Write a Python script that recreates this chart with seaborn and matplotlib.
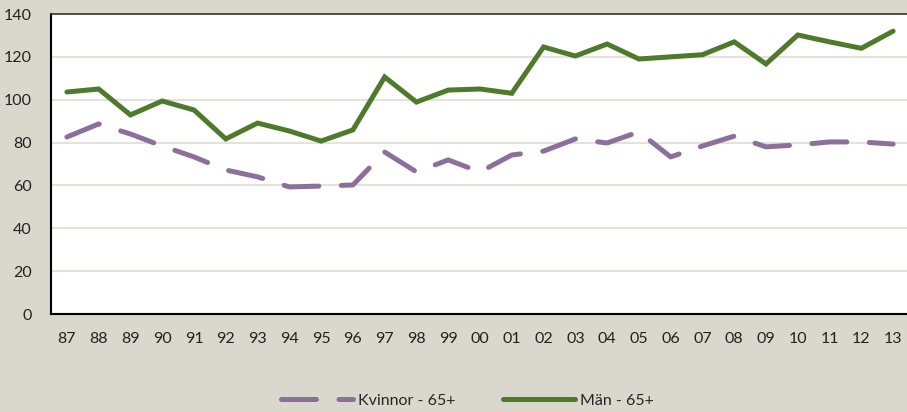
import numpy as np
import pandas as pd
import seaborn as sns
import matplotlib.pyplot as plt
from matplotlib.lines import Line2D
from matplotlib.ticker import MultipleLocator

# data
years = ['87', '88', '89', '90', '91', '92', '93', '94', '95', '96', '97', '98', '99',
         '00', '01', '02', '03', '04', '05', '06', '07', '08', '09', '10', '11', '12', '13']
kvinnor = [82.6, 88.7, 84.0, 78.4, 73.3, 67.2, 64.0, 59.3, 59.7, 60.2, 75.6, 66.3, 71.9,
           66.3, 74.2, 76.0, 81.7, 79.8, 85.0, 73.3, 78.4, 83.0, 78.0, 78.9, 80.3, 80.3, 79.3]
man = [103.6, 105.0, 92.9, 99.4, 95.2, 81.7, 89.1, 85.4, 80.7, 85.9, 110.6, 98.9, 104.5,
       105.0, 103.0, 124.6, 120.4, 126.0, 119.0, 120.0, 121.0, 127.0, 116.7, 130.2, 127.0, 124.0, 132.0]
series_names = ['Kvinnor - 65+', 'Män - 65+']

bg = '#dad8cc'
purple = '#8c6f9a'
green = '#4e7a2c'

sns.set_theme(style='white')
plt.rcParams['font.family'] = ['Lato', 'DejaVu Sans']

pos = np.arange(len(years))
df = pd.DataFrame({
    'x': np.concatenate([pos, pos]),
    'value': kvinnor + man,
    'serie': [series_names[0]] * len(years) + [series_names[1]] * len(years),
})

fig = plt.figure(figsize=(9.07, 4.12), dpi=100, facecolor=bg)
ax = fig.add_axes([51 / 907, 1 - 314 / 412, 858 / 907, 300 / 412])
ax.set_facecolor('white')

dash = (7, 4.5)
sns.lineplot(data=df, x='x', y='value', hue='serie', style='serie',
             palette={series_names[0]: purple, series_names[1]: green},
             dashes={series_names[0]: dash, series_names[1]: ''},
             linewidth=3.6, ax=ax, legend=False)
for ln in ax.get_lines():
    ln.set_dash_capstyle('round')
    ln.set_solid_capstyle('round')
    ln.set_solid_joinstyle('miter')

ax.set_xlim(-0.5, len(years) - 0.5)
ax.set_ylim(0, 140)
ax.set_xticks(pos)
ax.set_xticklabels(years)
ax.xaxis.set_minor_locator(MultipleLocator(1, offset=0.5))
ax.tick_params(axis='x', which='major', length=0, pad=13, labelsize=11.5, colors='#222222')
ax.tick_params(axis='x', which='minor', length=5, direction='in', width=1, color='black')
ax.yaxis.set_major_locator(MultipleLocator(20))
ax.tick_params(axis='y', length=0, pad=14, labelsize=11.5, colors='#222222')
ax.grid(axis='y', color='#e4e2da', linewidth=1.5)
ax.set_axisbelow(True)
ax.set_xlabel('')
ax.set_ylabel('')

for s in ['left', 'bottom']:
    ax.spines[s].set_color('black')
    ax.spines[s].set_linewidth(1.5)
ax.spines['top'].set_color('#333333')
ax.spines['top'].set_linewidth(1.2)
ax.spines['right'].set_visible(False)

handles = [
    Line2D([], [], color=purple, linewidth=3.6, dashes=dash, dash_capstyle='round'),
    Line2D([], [], color=green, linewidth=3.6, solid_capstyle='round'),
]
fig.legend(handles, series_names, loc='center', bbox_to_anchor=(0.515, 0.027),
           ncol=2, frameon=False, fontsize=11.5, handlelength=4.5,
           columnspacing=3.0, handletextpad=0.3)

fig.savefig('out.png', dpi=100, facecolor=bg)
